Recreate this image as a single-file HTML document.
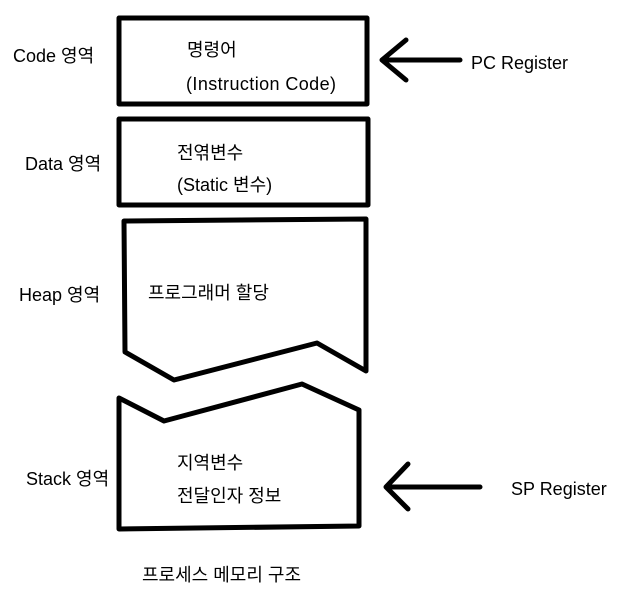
<!DOCTYPE html>
<html><head><meta charset="utf-8"><style>
body{margin:0;background:#fff;width:625px;height:589px;overflow:hidden}
svg text{font-family:"Liberation Sans","Noto Sans CJK KR",sans-serif;font-size:18px;fill:#000}
</style></head><body>
<svg width="625" height="589" viewBox="0 0 625 589">
<g fill="none" stroke="#000" stroke-width="5" stroke-linejoin="round" stroke-linecap="round">
<rect x="119" y="18" width="248" height="86"/>
<rect x="119" y="119" width="249" height="86"/>
<path d="M124,221 L366,219 L366,371 L317,343 L174,380 L125,352 Z"/>
<path d="M119,398 L164,421 L302,384 L359,410 L359,526 L119,529 Z"/>
<path d="M460,60 L382,60 M406,40 L382,60 L406,80"/>
<path d="M480,487 L386,487 M408,464 L386,487 L408,509"/>
</g>
<text x="13" y="62">Code 영역</text>
<text x="25" y="170">Data 영역</text>
<text x="19" y="301">Heap 영역</text>
<text x="26" y="485">Stack 영역</text>
<text x="187" y="56">명령어</text>
<text x="186" y="90" textLength="150">(Instruction Code)</text>
<text x="177" y="159">전엮변수</text>
<text x="177" y="191">(Static 변수)</text>
<text x="148" y="299">프로그래머 할당</text>
<text x="177" y="469">지역변수</text>
<text x="177" y="502">전달인자 정보</text>
<text x="471" y="69">PC Register</text>
<text x="511" y="495">SP Register</text>
<text x="142" y="581">프로세스 메모리 구조</text>
</svg>
</body></html>
